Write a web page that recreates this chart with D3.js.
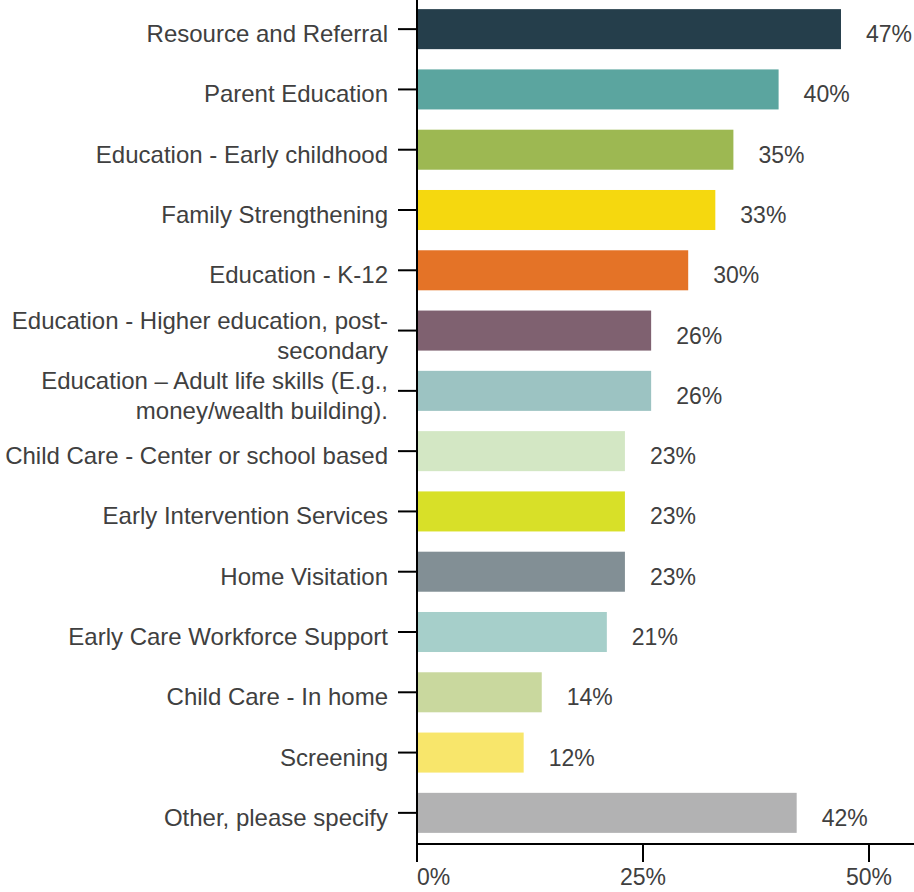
<!DOCTYPE html>
<html>
<head>
<meta charset="utf-8">
<script src="https://cdn.jsdelivr.net/npm/d3@7"></script>
<style>
    body { margin: 0; background: #fff; }
    text { font-family: "Liberation Sans", Arial, sans-serif; fill: #404040; }
</style>
</head>
<body>
<div id="chart"></div>
<script>
// categories, top to bottom (multi-line labels split with \n)
const categories = [
    "Resource and Referral",
    "Parent Education",
    "Education - Early childhood",
    "Family Strengthening",
    "Education - K-12",
    "Education - Higher education, post-\nsecondary",
    "Education \u2013 Adult life skills (E.g.,\nmoney/wealth building).",
    "Child Care - Center or school based",
    "Early Intervention Services",
    "Home Visitation",
    "Early Care Workforce Support",
    "Child Care - In home",
    "Screening",
    "Other, please specify"
];

// percent values
const values = [46.9, 40, 35, 33, 30, 25.9, 25.9, 23, 23, 23, 21, 13.8, 11.8, 42];

// value labels as printed
const valueLabels = ["47%", "40%", "35%", "33%", "30%", "26%", "26%", "23%", "23%", "23%", "21%", "14%", "12%", "42%"];

const barColors = [
    "#253e4b", "#5ba59f", "#9db852", "#f5d80f", "#e47327", "#7f6170", "#9cc3c2",
    "#d3e7c4", "#d8e028", "#828f95", "#a6cfca", "#c9d89e", "#f8e66b", "#b2b2b3"
];

const tickValues = [0, 25, 50];

const W = 914, H = 892;
const x0 = 417, xAxisY = 844;
const fontSize = '24px';

const svg = d3.select('#chart').append('svg')
    .attr('width', W)
    .attr('height', H);

const x = d3.scaleLinear()
    .domain([0, 50])
    .range([x0, 869]);

const y = d3.scaleBand()
    .domain(categories)
    .range([-1, 843])
    .paddingInner(0.336)
    .paddingOuter(0.168);

// bars
svg.selectAll('.bar')
    .data(values)
    .enter().append('rect')
    .attr('class', 'bar')
    .attr('x', x(0) + 1)
    .attr('y', (d, i) => y(categories[i]))
    .attr('width', d => x(d) - x(0) - 1)
    .attr('height', y.bandwidth())
    .attr('fill', (d, i) => barColors[i]);

// value labels
svg.selectAll('.label')
    .data(values)
    .enter().append('text')
    .attr('class', 'label')
    .attr('x', d => x(d) + 25)
    .attr('y', (d, i) => y(categories[i]) + y.bandwidth() / 2 + 13)
    .style('font-size', '23px')
    .text((d, i) => valueLabels[i]);

// y axis: line, ticks, category labels
svg.append('line')
    .attr('x1', x0).attr('x2', x0)
    .attr('y1', 0).attr('y2', xAxisY + 18)
    .attr('stroke', '#000').attr('stroke-width', 2);

categories.forEach(c => {
    const cy = y(c) + y.bandwidth() / 2;
    svg.append('line')
        .attr('x1', x0 - 19).attr('x2', x0)
        .attr('y1', cy).attr('y2', cy)
        .attr('stroke', '#000').attr('stroke-width', 2);

    const lines = c.split('\n');
    const t = svg.append('text')
        .attr('text-anchor', 'end')
        .style('font-size', fontSize);
    lines.forEach((ln, k) => {
        t.append('tspan')
            .attr('x', 388)
            .attr('y', cy + 13 + (k - (lines.length - 1) / 2) * 30)
            .text(ln);
    });
});

// x axis
svg.append('line')
    .attr('x1', x0).attr('x2', W)
    .attr('y1', xAxisY).attr('y2', xAxisY)
    .attr('stroke', '#000').attr('stroke-width', 2);

tickValues.forEach((t, i) => {
    svg.append('line')
        .attr('x1', x(t)).attr('x2', x(t))
        .attr('y1', xAxisY).attr('y2', xAxisY + 18)
        .attr('stroke', '#000').attr('stroke-width', 2);
    svg.append('text')
        .attr('x', x(t))
        .attr('y', xAxisY + 41)
        .attr('text-anchor', i === 0 ? 'start' : 'middle')
        .style('font-size', '23px')
        .text(t + '%');
});
</script>
</body>
</html>
